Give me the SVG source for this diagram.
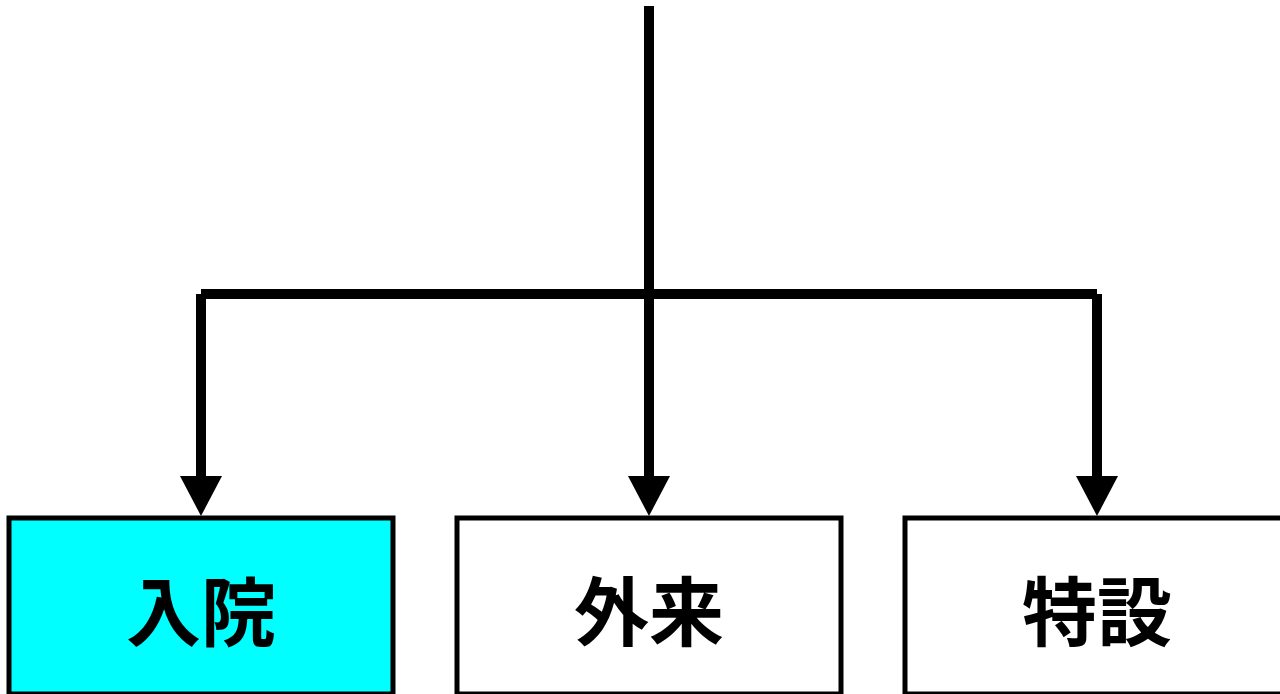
<svg xmlns="http://www.w3.org/2000/svg" width="1280" height="694" viewBox="0 0 1280 694">
<style>
.conn{stroke:#000;stroke-width:10;fill:none;stroke-linecap:butt}
.box{stroke:#000;stroke-width:5}
.lbl{font-family:"Noto Sans CJK JP","Noto Sans CJK SC",sans-serif;font-weight:bold;font-size:75px;fill:#000;text-anchor:middle}
</style>
<defs>
<marker id="ah" markerUnits="userSpaceOnUse" viewBox="0 0 40 42" markerWidth="40" markerHeight="42" refX="0" refY="21" orient="auto">
<path d="M0,0 L40,21 L0,42 z" fill="#000"/>
</marker>
</defs>
<rect width="1280" height="694" fill="#fff"/>
<g id="connectors">
<line class="conn" x1="649" y1="6" x2="649" y2="476" marker-end="url(#ah)"/>
<line class="conn" x1="201" y1="294" x2="1097" y2="294"/>
<line class="conn" x1="201" y1="294" x2="201" y2="476" marker-end="url(#ah)"/>
<line class="conn" x1="1097" y1="294" x2="1097" y2="476" marker-end="url(#ah)"/>
</g>
<g id="node-nyuin">
<rect class="box" x="9" y="518" width="384" height="176" fill="#00ffff"/>
<text class="lbl" x="201" y="640">入院</text>
</g>
<g id="node-gairai">
<rect class="box" x="457" y="518" width="384" height="176" fill="#fff"/>
<text class="lbl" x="649" y="640">外来</text>
</g>
<g id="node-tokusetsu">
<rect class="box" x="905" y="518" width="384" height="176" fill="#fff"/>
<text class="lbl" x="1097" y="640">特設</text>
</g>
</svg>
